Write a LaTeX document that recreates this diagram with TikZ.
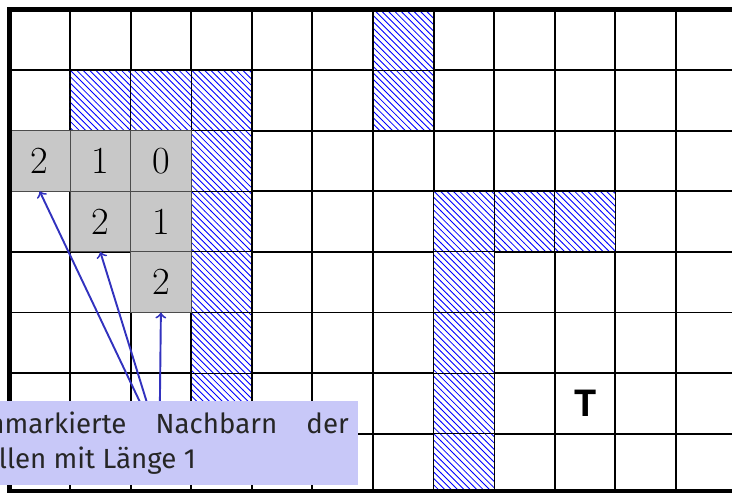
\documentclass[tikz,border=0pt]{standalone}
\usepackage{fontspec}
\newfontfamily\notefont{Fira Sans}
\newfontfamily\tfont{TeX Gyre Heros}
\usetikzlibrary{patterns}
\definecolor{arrowblue}{RGB}{50,50,190}
\definecolor{notefill}{RGB}{200,200,248}
\definecolor{cellgray}{RGB}{200,200,200}
\pgfdeclarelayer{fg}
\pgfsetlayers{main,fg}
\begin{document}
\begin{tikzpicture}[
  gridline/.style={line width=0.9pt, black},
  borderline/.style={line width=2pt, black},
  hatchcell/.style={preaction={fill=white}, pattern=north west lines, pattern color=blue, draw=black, line width=0.4pt},
  graycell/.style={fill=cellgray, draw=black!70, line width=0.4pt, minimum size=1cm, inner sep=0pt, outer sep=0pt, font=\fontsize{18}{20}\selectfont},
  notebox/.style={fill=notefill, text=black!85, text width=6.25cm, align=justify, font=\notefont\fontsize{13}{16.4}\selectfont, minimum height=1.386cm, inner sep=4.3pt},
  nbarrow/.style={->, arrowblue, line width=0.9pt},
  targetlabel/.style={font=\tfont\bfseries\fontsize{17}{20}\selectfont}
]
\useasboundingbox (-0.155,0.157) rectangle (11.924,-7.962);
% grid
\draw[gridline] (0,0) grid (12.5,-7.94);
% hatched (blocked) cells
\foreach \c/\r in {6/0,1/1,2/1,3/1,6/1,3/2,3/3,7/3,8/3,9/3,3/4,7/4,3/5,7/5,3/6,7/6}
  \path[hatchcell] (\c,-\r) rectangle ++(1,-1);
\path[hatchcell] (7,-7) rectangle (8,-7.94);
% marked cells
\node[graycell] (g20) at (0.5,-2.5) {2};
\node[graycell] (g21) at (1.5,-2.5) {1};
\node[graycell] (g22) at (2.5,-2.5) {0};
\node[graycell] (g31) at (1.5,-3.5) {2};
\node[graycell] (g32) at (2.5,-3.5) {1};
\node[graycell] (g42) at (2.5,-4.5) {2};
% target
\node[targetlabel] (T) at (9.5,-6.5) {T};
% border
\draw[borderline] (12.5,0) -- (0,0) -- (0,-7.94) -- (12.5,-7.94);
% note
\begin{pgfonlayer}{fg}
\node[notebox] (note) at (2.476,-7.153) {Unmarkierte Nachbarn der\linebreak Zellen mit Länge 1};
\end{pgfonlayer}
% arrows
\draw[nbarrow] (note.center) -- (g20.south);
\draw[nbarrow] (note.center) -- (g31.south);
\draw[nbarrow] (note.center) -- (g42.south);
\end{tikzpicture}
\end{document}
